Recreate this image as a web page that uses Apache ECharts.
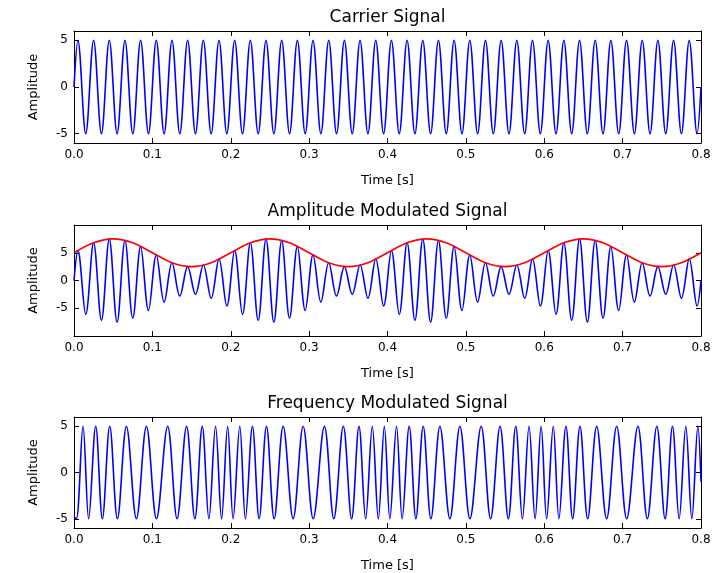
<!DOCTYPE html>
<html>
<head>
<meta charset="utf-8">
<script src="https://cdn.jsdelivr.net/npm/echarts@6/dist/echarts.min.js"></script>
<style>
html, body { margin: 0; padding: 0; background: #fff; }
#main { width: 718px; height: 573px; }
</style>
</head>
<body>
<div id="main"></div>
<script>
// peak / trough times (s) of the carrier, AM signal uses the same ones
var carrierT = [0,
  0.005,0.015,0.025,0.035,0.045,0.055,0.065,0.075,0.085,0.095,
  0.105,0.115,0.125,0.135,0.145,0.155,0.165,0.175,0.185,0.195,
  0.205,0.215,0.225,0.235,0.245,0.255,0.265,0.275,0.285,0.295,
  0.305,0.315,0.325,0.335,0.345,0.355,0.365,0.375,0.385,0.395,
  0.405,0.415,0.425,0.435,0.445,0.455,0.465,0.475,0.485,0.495,
  0.505,0.515,0.525,0.535,0.545,0.555,0.565,0.575,0.585,0.595,
  0.605,0.615,0.625,0.635,0.645,0.655,0.665,0.675,0.685,0.695,
  0.705,0.715,0.725,0.735,0.745,0.755,0.765,0.775,0.785,0.795,
  0.8];
var carrierY = [0,
  5,-5,5,-5,5,-5,5,-5,5,-5,
  5,-5,5,-5,5,-5,5,-5,5,-5,
  5,-5,5,-5,5,-5,5,-5,5,-5,
  5,-5,5,-5,5,-5,5,-5,5,-5,
  5,-5,5,-5,5,-5,5,-5,5,-5,
  5,-5,5,-5,5,-5,5,-5,5,-5,
  5,-5,5,-5,5,-5,5,-5,5,-5,
  5,-5,5,-5,5,-5,5,-5,5,-5,
  0];
var amY = [0,
  5.4,-6.1,6.8,-7.2,7.5,-7.5,7.2,-6.8,6.1,-5.4,4.6,-3.9,3.2,-2.8,2.5,-2.5,2.8,-3.2,3.9,-4.6,
  5.4,-6.1,6.8,-7.2,7.5,-7.5,7.2,-6.8,6.1,-5.4,4.6,-3.9,3.2,-2.8,2.5,-2.5,2.8,-3.2,3.9,-4.6,
  5.4,-6.1,6.8,-7.2,7.5,-7.5,7.2,-6.8,6.1,-5.4,4.6,-3.9,3.2,-2.8,2.5,-2.5,2.8,-3.2,3.9,-4.6,
  5.4,-6.1,6.8,-7.2,7.5,-7.5,7.2,-6.8,6.1,-5.4,4.6,-3.9,3.2,-2.8,2.5,-2.5,2.8,-3.2,3.9,-4.6,
  0];
// red envelope
var envT = [0,0.025,0.05,0.075,0.1,0.125,0.15,0.175,
  0.2,0.225,0.25,0.275,0.3,0.325,0.35,0.375,
  0.4,0.425,0.45,0.475,0.5,0.525,0.55,0.575,
  0.6,0.625,0.65,0.675,0.7,0.725,0.75,0.775,0.8];
var envY = [5,6.8,7.5,6.8,5,3.2,2.5,3.2,
  5,6.8,7.5,6.8,5,3.2,2.5,3.2,
  5,6.8,7.5,6.8,5,3.2,2.5,3.2,
  5,6.8,7.5,6.8,5,3.2,2.5,3.2,5];
// FM signal extrema
var fmT = [0,
  0.003,0.0115,0.0187,0.0277,0.0362,0.0456,0.0554,0.0669,0.0796,0.0924,
  0.1052,0.1195,0.1315,0.1436,0.1542,0.1636,0.1721,0.1806,0.1883,0.196,
  0.203,0.2115,0.2187,0.2277,0.2362,0.2456,0.2554,0.2669,0.2796,0.2924,
  0.3052,0.3195,0.3315,0.3436,0.3542,0.3636,0.3721,0.3806,0.3883,0.396,
  0.403,0.4115,0.4187,0.4277,0.4362,0.4456,0.4554,0.4669,0.4796,0.4924,
  0.5052,0.5195,0.5315,0.5436,0.5542,0.5636,0.5721,0.5806,0.5883,0.596,
  0.603,0.6115,0.6187,0.6277,0.6362,0.6456,0.6554,0.6669,0.6796,0.6924,
  0.7052,0.7195,0.7315,0.7436,0.7542,0.7636,0.7721,0.7806,0.7883,0.796,
  0.8];
var fmY = [-4.8,
  -5,5,-5,5,-5,5,-5,5,-5,5,
  -5,5,-5,5,-5,5,-5,5,-5,5,
  -5,5,-5,5,-5,5,-5,5,-5,5,
  -5,5,-5,5,-5,5,-5,5,-5,5,
  -5,5,-5,5,-5,5,-5,5,-5,5,
  -5,5,-5,5,-5,5,-5,5,-5,5,
  -5,5,-5,5,-5,5,-5,5,-5,5,
  -5,5,-5,5,-5,5,-5,5,-5,5,
  -1];
var yTicks = [-5, 0, 5];
var titles = ['Carrier Signal', 'Amplitude Modulated Signal', 'Frequency Modulated Signal'];
var yRanges = [[-6, 6], [-10, 10], [-6, 6]];

var font = 'DejaVu Sans';
var pairs = function(xs, ys){ return xs.map(function(x, i){ return [x, ys[i]]; }); };

var grids = [
  { left: 74, right: 17, top: 31, height: 112 },
  { left: 74, right: 17, top: 225, height: 111 },
  { left: 74, right: 17, top: 417, height: 112 }
];

var line = { lineStyle: { color: '#000', width: 1 }, onZero: false };
var tick = { inside: true, length: 5, lineStyle: { color: '#000' } };

var xAxes = [], yAxes = [];
grids.forEach(function(g, i){
  xAxes.push({
    type: 'value', gridIndex: i, min: 0, max: 0.8, interval: 0.1, position: 'bottom',
    axisLine: line, axisTick: tick, splitLine: { show: false },
    axisLabel: { color: '#000', fontFamily: font, fontSize: 12, margin: 6,
      formatter: function(v){ return v.toFixed(1); } },
    name: 'Time [s]', nameLocation: 'middle', nameGap: 31,
    nameTextStyle: { color: '#000', fontFamily: font, fontSize: 13 }
  });
  xAxes.push({
    type: 'value', gridIndex: i, min: 0, max: 0.8, interval: 0.1, position: 'top',
    axisLine: line, axisTick: tick, splitLine: { show: false }, axisLabel: { show: false },
    name: titles[i], nameLocation: 'middle', nameGap: 5,
    nameTextStyle: { color: '#000', fontFamily: font, fontSize: 17, verticalAlign: 'bottom' }
  });
  yAxes.push({
    type: 'value', gridIndex: i, min: yRanges[i][0], max: yRanges[i][1], position: 'left',
    axisLine: line, splitLine: { show: false },
    axisTick: { inside: true, length: 5, lineStyle: { color: '#000' }, customValues: yTicks },
    axisLabel: { color: '#000', fontFamily: font, fontSize: 12, margin: 6, customValues: yTicks },
    name: 'Amplitude', nameLocation: 'middle', nameGap: 34,
    nameTextStyle: { color: '#000', fontFamily: font, fontSize: 13 }
  });
  yAxes.push({
    type: 'value', gridIndex: i, min: yRanges[i][0], max: yRanges[i][1], position: 'right',
    axisLine: line, splitLine: { show: false },
    axisTick: { inside: true, length: 5, lineStyle: { color: '#000' }, customValues: yTicks },
    axisLabel: { show: false }
  });
});

var blue = { color: '#0000ff', width: 1.6 };

var option = {
  animation: false,
  backgroundColor: '#fff',
  grid: grids,
  xAxis: xAxes,
  yAxis: yAxes,
  series: [
    { name: 'Carrier', type: 'line', xAxisIndex: 0, yAxisIndex: 0, data: pairs(carrierT, carrierY),
      smooth: 0.36, showSymbol: false, lineStyle: blue, itemStyle: { color: '#0000ff' } },
    { name: 'AM', type: 'line', xAxisIndex: 2, yAxisIndex: 2, data: pairs(carrierT, amY),
      smooth: 0.36, showSymbol: false, lineStyle: blue, itemStyle: { color: '#0000ff' } },
    { name: 'Envelope', type: 'line', xAxisIndex: 2, yAxisIndex: 2, data: pairs(envT, envY),
      smooth: 0.33, showSymbol: false, lineStyle: { color: '#ff0000', width: 1.6 }, itemStyle: { color: '#ff0000' } },
    { name: 'FM', type: 'line', xAxisIndex: 4, yAxisIndex: 4, data: pairs(fmT, fmY),
      smooth: 0.36, showSymbol: false, lineStyle: blue, itemStyle: { color: '#0000ff' } }
  ]
};

var chart = echarts.init(document.getElementById('main'));
chart.setOption(option);
</script>
</body>
</html>
